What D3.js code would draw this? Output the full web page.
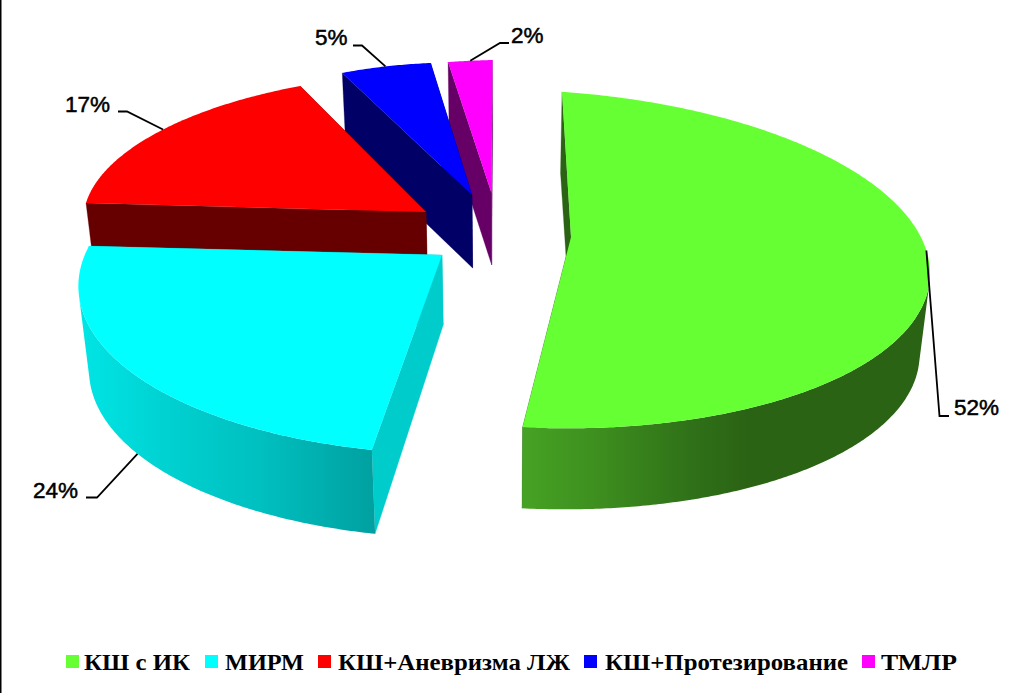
<!DOCTYPE html>
<html><head><meta charset="utf-8">
<script src="https://cdnjs.cloudflare.com/ajax/libs/d3/7.8.5/d3.min.js"></script>
<style>html,body{margin:0;padding:0;background:#fff}svg{display:block}</style>
</head><body><svg id="c" width="1010" height="693"></svg>
<script>
// --- data ---
const categories = ["КШ с ИК","МИРМ","КШ+Аневризма ЛЖ","КШ+Протезирование","ТМЛР"];
const shares = [52.1,24.1,17,4.9,1.9];
// --- styles ---
const topColors = ["#66FF33","#00FFFF","#FF0000","#0000FF","#FF00FF"];
const wallColors = ["#2B6314","#00CCCC","#660000","#000066","#660066"];
// --- 3D layout: one projective frame per exploded slice ---
const frames = [
 {ax:571,ay:237,A:390,B:-10.2,C:12,D:-165,p:.137,q:.1,rim:81,hub:72},
 {ax:442,ay:255,A:387,B:9.6,C:-3,D:-169,p:.15,q:-.08,rim:84,hub:70},
 {ax:426,ay:212,A:342.3,B:17.6,C:-1.43,D:-139.1,p:0,q:0,rim:75,hub:75},
 {ax:472,ay:195,A:301,B:-5.5,C:3.6,D:-132.5,p:0,q:0,rim:73,hub:73},
 {ax:491.5,ay:193,A:373,B:1,C:-9,D:-133,p:0,q:0,rim:72,hub:72}
];
const vanishX = 500, converge = 0.0003;
const leaderAt = [.485,.49,.533,.5,.5];
const leaderBends = [[[939.5,416],[949,416]],[[97,497.5],[86,497.5]],[[127,111.5],[118,111.5]],[[362,45.5],[353,45.5]],[[500,43],[509,43]]];
const labelPos = [[954,415],[33,498],[65,112],[315,45],[511,43]];
const legendSwatchX = [66,205,318,584,862];
const legendTextX = [84,225,338,605,881];
const legendTextW = [106,79,232,243,76];

const svg = d3.select("#c");
const defs = svg.append("defs");
function grad(id, stops, x1, x2){
  const g = defs.append("linearGradient").attr("id",id).attr("gradientUnits","userSpaceOnUse")
    .attr("x1",x1).attr("x2",x2).attr("y1",0).attr("y2",0);
  stops.forEach(s=>g.append("stop").attr("offset",s[0]).attr("stop-color",s[1]));
  return `url(#${id})`;
}
const wallFill = [
  grad("gw",[[0,"#46A224"],[.17,"#3E901F"],[.42,"#2F7018"],[.55,"#2B6314"],[1,"#2B6314"]],523,930),
  grad("cw",[[0,"#00E4E4"],[.3,"#00D0D0"],[.6,"#00C0C0"],[1,"#00A0A0"]],85,375),
  wallColors[2], wallColors[3], wallColors[4]
];
const arcs = d3.pie().sort(null).value(d=>d)(shares);
const line = d3.line();
function proj(f,t,r=1){
  const u=Math.sin(t)*r, v=Math.cos(t)*r, w=1+f.p*v+f.q*u;
  return [f.ax+(f.A*u+f.B*v)/w, f.ay+(f.C*u+f.D*v)/w];
}
function drop(f,t,r=1){
  const P=proj(f,t,r), dep=f.hub+(f.rim-f.hub)*r;
  return [P[0]+(vanishX-P[0])*converge*dep, P[1]+dep];
}
function sweep(a){ const n=Math.max(24,Math.ceil((a.endAngle-a.startAngle)*120));
  return d3.range(n+1).map(i=>a.startAngle+(a.endAngle-a.startAngle)*i/n); }
// a rim step faces the viewer when its quad winds the screen-front way
function faces(f,t0,t1){ return d3.polygonArea([proj(f,t0),proj(f,t1),drop(f,t1),drop(f,t0)])>0; }

const order = [4,3,2,1,0];
order.forEach(i=>{
  const a=arcs[i], f=frames[i], ts=sweep(a), g=svg.append("g");
  [a.startAngle,a.endAngle].forEach(t=>{
    g.append("path").attr("fill",wallColors[i]).attr("stroke",wallColors[i]).attr("stroke-width",.3)
     .attr("d",line([proj(f,t),proj(f,t,0),drop(f,t,0),drop(f,t)])+"Z");
  });
  const front=d3.pairs(ts).filter(([t0,t1])=>faces(f,t0,t1));
  if(front.length){
    const run=[front[0][0],...front.map(p=>p[1])];
    g.append("path").attr("fill",wallFill[i])
     .attr("d",line(run.map(t=>proj(f,t)).concat(run.slice().reverse().map(t=>drop(f,t))))+"Z");
  }
  g.append("path").attr("fill",topColors[i])
   .attr("d",line([proj(f,0,0)].concat(ts.map(t=>proj(f,t))))+"Z");
});
// leaders and labels
arcs.forEach((a,i)=>{
  const f=frames[i], mid=a.startAngle+(a.endAngle-a.startAngle)*leaderAt[i];
  const s = Math.cos(mid)<-0.3 ? drop(f,mid) : proj(f,mid);
  svg.append("path").attr("fill","none").attr("stroke","#000").attr("stroke-width",1.8)
    .attr("d",line([s,...leaderBends[i]]));
  svg.append("text").attr("x",labelPos[i][0]).attr("y",labelPos[i][1])
    .attr("font-family","'Liberation Sans'").attr("font-size",22.5).attr("fill","#000")
    .attr("stroke","#000").attr("stroke-width",.5)
    .text(Math.round(shares[i])+"%");
});
// legend
categories.forEach((c,i)=>{
  svg.append("rect").attr("x",legendSwatchX[i]).attr("y",655).attr("width",13).attr("height",13).attr("fill",topColors[i]);
  svg.append("text").attr("x",legendTextX[i]).attr("y",670)
    .attr("font-family","'Liberation Serif'").attr("font-weight","bold").attr("font-size",24).attr("fill","#000")
    .attr("textLength",legendTextW[i]).attr("lengthAdjust","spacingAndGlyphs").text(c);
});
svg.append("line").attr("x1",.75).attr("x2",.75).attr("y1",0).attr("y2",693).attr("stroke","#000").attr("stroke-width",1.5);
</script></body></html>
